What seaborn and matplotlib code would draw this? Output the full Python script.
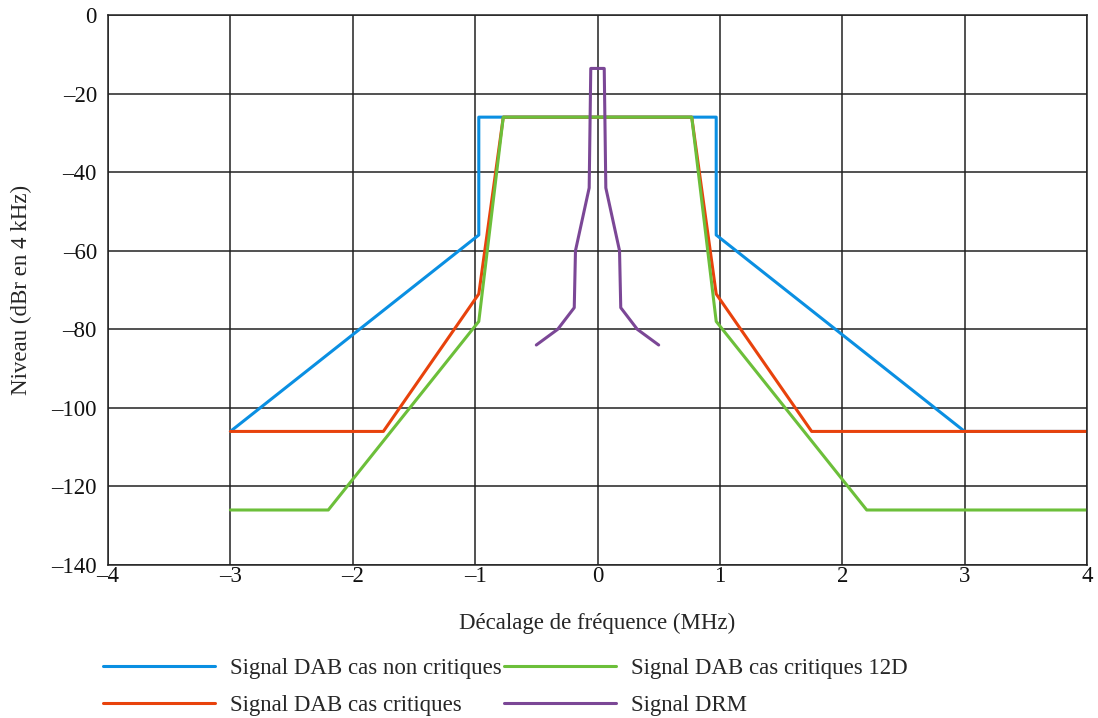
import matplotlib
matplotlib.use('Agg')
from matplotlib import pyplot as plt
import pandas as pd
import seaborn as sns

# Spectrum masks (MHz offset, dBr in 4 kHz)
dab_non_crit_x = [-3.0, -0.97, -0.97, 0.97, 0.97, 3.0, 4.0]
dab_non_crit_y = [-106, -56, -26, -26, -56, -106, -106]

dab_crit_x = [-3.0, -1.75, -0.97, -0.77, 0.77, 0.97, 1.75, 4.0]
dab_crit_y = [-106, -106, -71, -26, -26, -71, -106, -106]

dab_12d_x = [-3.0, -2.2, -0.97, -0.77, 0.77, 0.97, 2.2, 4.0]
dab_12d_y = [-126, -126, -78, -26, -26, -78, -126, -126]

drm_x = [-0.5, -0.325, -0.19, -0.18, -0.068, -0.055, 0.055, 0.068, 0.18, 0.19, 0.325, 0.5]
drm_y = [-84, -80, -74.5, -60, -44, -13.6, -13.6, -44, -60, -74.5, -80, -84]

labels = ['Signal DAB cas non critiques', 'Signal DAB cas critiques',
          'Signal DAB cas critiques 12D', 'Signal DRM']
colors = ['#0a8fe2', '#e8420c', '#6cbf3a', '#7b4796']

frames = []
for lab, xs, ys in zip(labels,
                       [dab_non_crit_x, dab_crit_x, dab_12d_x, drm_x],
                       [dab_non_crit_y, dab_crit_y, dab_12d_y, drm_y]):
    d = pd.DataFrame({'x': xs, 'y': ys})
    d['signal'] = lab
    frames.append(d)
df = pd.concat(frames, ignore_index=True)

sns.set_style('white')
plt.rcParams['font.family'] = ['Liberation Serif', 'DejaVu Serif']
plt.rcParams['axes.unicode_minus'] = False

fs = 16.5
fig = plt.figure(figsize=(10.98, 7.18), dpi=100)
ax = fig.add_axes([108 / 1098, 1 - 565 / 718, (1087 - 108) / 1098, (565 - 15) / 718])

sns.lineplot(data=df, x='x', y='y', hue='signal', hue_order=labels,
             palette=dict(zip(labels, colors)), sort=False, estimator=None,
             units='signal', linewidth=2.2, ax=ax)

ax.set_xlim(-4, 4)
ax.set_ylim(-140, 0)
ax.set_xticks(range(-4, 5))
ax.set_yticks(range(-140, 1, 20))
ax.set_xticklabels([str(v).replace('-', '\u2013') for v in range(-4, 5)])
ax.set_yticklabels([str(v).replace('-', '\u2013') for v in range(-140, 1, 20)])
ax.grid(True, color='#222222', linewidth=1.1)
ax.set_axisbelow(True)
for s in ax.spines.values():
    s.set_color('#222222')
    s.set_linewidth(1.1)
ax.tick_params(axis='both', length=0, labelsize=fs, colors='#111111')
ax.tick_params(axis='x', pad=1)
ax.tick_params(axis='y', pad=8)

ax.set_xlabel('Décalage de fréquence (MHz)', fontsize=fs, labelpad=18)
ax.set_ylabel('Niveau (dBr en 4 kHz)', fontsize=fs, labelpad=14)

ax.get_legend().remove()
handles, labs = ax.get_legend_handles_labels()
fig.legend(handles, labs, loc='upper left', bbox_to_anchor=(96 / 1098, 1 - 651 / 718),
           ncol=2, frameon=False, fontsize=fs, handlelength=4.9,
           handletextpad=0.65, columnspacing=0.1, labelspacing=0.72,
           borderaxespad=0, borderpad=0.3)

fig.savefig('out.png', dpi=100)
